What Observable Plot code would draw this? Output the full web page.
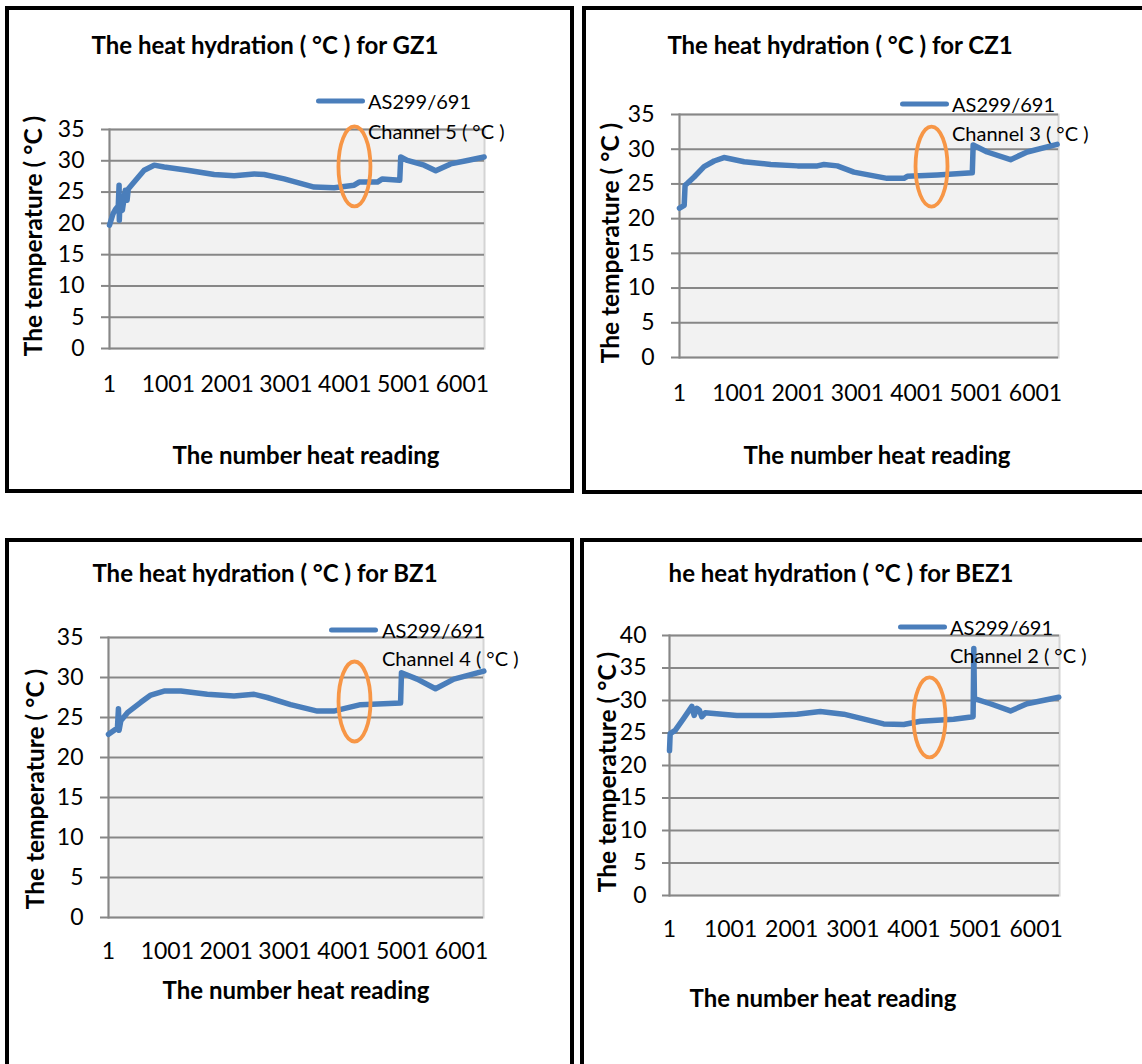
<!DOCTYPE html>
<html>
<head>
<meta charset="utf-8">
<script src="https://cdn.jsdelivr.net/npm/d3@7"></script>
<script src="https://cdn.jsdelivr.net/npm/@observablehq/plot@0.6"></script>
<style>
  html, body { margin: 0; padding: 0; background: #fff; }
  #root { position: relative; width: 1142px; height: 1064px; overflow: hidden; font-family: Lato, "Open Sans", sans-serif; color: #000; }
  .panel { position: absolute; border: 4px solid #000; box-sizing: border-box; }
  .t { position: absolute; white-space: nowrap; line-height: 1; }
  .title, .axt { font-weight: bold; font-size: 24px; transform: translate(-50%, -50%); }
  .ylab { font-weight: bold; font-size: 24.5px; transform: translate(-50%, -50%) rotate(-90deg); }
  .leg { font-size: 20px; transform: translate(0, -50%); }
  .swatch { position: absolute; height: 5px; background: #4A7EBB; border-radius: 3px; transform: translate(0, -50%); }
  .plot { position: absolute; overflow: visible; }
</style>
</head>
<body>
<div id="root"></div>
<script>
// ---------------- data ----------------
const xTicks = [1, 1001, 2001, 3001, 4001, 5001, 6001];
const yTicks35 = [0, 5, 10, 15, 20, 25, 30, 35];
const yTicks40 = [0, 5, 10, 15, 20, 25, 30, 35, 40];

const readingsGZ1 = [1, 60, 108, 150, 164, 168, 175, 220, 270, 300, 320, 420, 590, 760, 930, 1326, 1780, 2120, 2460, 2630, 2970, 3480, 3820, 4160, 4245, 4555, 4640, 4935, 4952, 5065, 5350, 5547, 5800, 6085, 6370];
const tempGZ1     = [19.7, 21.5, 22.3, 22.8, 26.1, 20.5, 22.5, 22.1, 25.3, 23.7, 25.5, 26.6, 28.5, 29.3, 29.0, 28.5, 27.8, 27.6, 27.9, 27.8, 27.1, 25.8, 25.7, 26.1, 26.6, 26.6, 27.1, 26.9, 30.6, 30.05, 29.3, 28.4, 29.5, 30.05, 30.6];

const readingsCZ1 = [1, 80, 95, 135, 247, 415, 585, 750, 1090, 1540, 1990, 2325, 2435, 2660, 2940, 3500, 3783, 3840, 4345, 4935, 4950, 5186, 5580, 5860, 6365];
const tempCZ1     = [21.5, 21.9, 24.8, 25.1, 26.0, 27.5, 28.3, 28.8, 28.2, 27.8, 27.6, 27.6, 27.8, 27.6, 26.7, 25.8, 25.8, 26.1, 26.3, 26.6, 30.6, 29.6, 28.5, 29.6, 30.7];

const readingsBZ1 = [1, 153, 170, 181, 210, 323, 550, 720, 945, 1230, 1680, 2135, 2475, 2700, 3095, 3550, 3830, 4000, 4285, 4965, 4980, 5247, 5558, 5870, 6380];
const tempBZ1     = [22.9, 23.7, 26.1, 23.4, 24.6, 25.6, 26.9, 27.8, 28.3, 28.3, 27.9, 27.7, 27.9, 27.5, 26.6, 25.8, 25.8, 26.1, 26.6, 26.8, 30.6, 29.8, 28.6, 29.8, 30.8];

const readingsBEZ1 = [1, 12, 94, 230, 367, 405, 448, 490, 530, 585, 1103, 1650, 2086, 2468, 2850, 3505, 3833, 4106, 4650, 4968, 4980, 4990, 5250, 5580, 5850, 6370];
const tempBEZ1     = [22.3, 24.9, 25.4, 27.2, 29.1, 27.7, 28.8, 28.5, 27.5, 28.1, 27.7, 27.7, 27.9, 28.3, 27.9, 26.4, 26.3, 26.8, 27.1, 27.5, 38.0, 30.3, 29.5, 28.4, 29.5, 30.5];

const readingCounts = [6376, 6388, 6374, 6382];          // last reading on each x axis
const titles = ["The heat hydration ( °C ) for GZ1", "The heat hydration ( °C ) for CZ1",
                "The heat hydration ( °C ) for BZ1", "he heat hydration ( °C ) for BEZ1"];
const seriesNames = ["AS299/691", "AS299/691", "AS299/691", "AS299/691"];
const channelNames = ["Channel 5 ( °C )", "Channel 3 ( °C )", "Channel 4 ( °C )", "Channel 2 ( °C )"];
const yLabel = "The temperature ( °C )";
const xLabel = "The number heat reading";
// annotation ellipses (centre in data units)
const markX = [4165, 4248, 4182, 4255];
const markY = [29.1, 27.5, 27.0, 27.4];

// ---------------- layout ----------------
const series = [
  {x: readingsGZ1, y: tempGZ1, yTicks: yTicks35},
  {x: readingsCZ1, y: tempCZ1, yTicks: yTicks35},
  {x: readingsBZ1, y: tempBZ1, yTicks: yTicks35},
  {x: readingsBEZ1, y: tempBEZ1, yTicks: yTicks40}
];
const layout = [
  {box:[5,6,569,487],   frame:[109,484,129,348], tick:[8,17], xpad:27, title:[265,45],  ylab:[33,236],  xlab:[306,455], leg:[316,365,101,368,131]},
  {box:[582,6,570,488], frame:[679,1058,114,357], tick:[8,17], xpad:27, title:[840,45],  ylab:[610,243], xlab:[877,455], leg:[900,949,104,952,133]},
  {box:[5,538,569,540], frame:[108,483,637,917], tick:[8,17], xpad:25, title:[265,573], ylab:[35,789],  xlab:[296,990], leg:[329,378,630,382,658]},
  {box:[580,538,580,540], frame:[669,1059,635,895], tick:[7,16], xpad:25, title:[841,573], ylab:[607,772], xlab:[823,998], leg:[898,947,627,950,655]}
];

const root = document.getElementById("root");
function addText(cls, txt, x, y) {
  const d = document.createElement("div");
  d.className = "t " + cls;
  d.textContent = txt;
  d.style.left = x + "px"; d.style.top = y + "px";
  root.appendChild(d);
}
function ellipseSymbol(rx, ry) {
  const k = 0.5523;
  return {draw(ctx) {
    ctx.moveTo(rx, 0);
    ctx.bezierCurveTo(rx, k*ry, k*rx, ry, 0, ry);
    ctx.bezierCurveTo(-k*rx, ry, -rx, k*ry, -rx, 0);
    ctx.bezierCurveTo(-rx, -k*ry, -k*rx, -ry, 0, -ry);
    ctx.bezierCurveTo(k*rx, -ry, rx, -k*ry, rx, 0);
    ctx.closePath();
  }};
}

series.forEach((s, i) => {
  const L = layout[i];
  const p = document.createElement("div");
  p.className = "panel";
  p.style.left = L.box[0] + "px"; p.style.top = L.box[1] + "px";
  p.style.width = L.box[2] + "px"; p.style.height = L.box[3] + "px";
  root.appendChild(p);

  const [fl, fr, ft, fb] = L.frame;
  const svgL = fl - 110, svgT = ft - 40, W = (fr + 30) - svgL, H = (fb + 60) - svgT;
  const data = s.x.map((x, j) => ({x, y: s.y[j]}));
  const yMax = s.yTicks[s.yTicks.length - 1];
  const chart = Plot.plot({
    width: W, height: H,
    marginLeft: fl - svgL, marginRight: svgL + W - fr, marginTop: ft - svgT, marginBottom: svgT + H - fb,
    style: {fontFamily: "Lato, 'Open Sans', sans-serif", fontSize: "23px", color: "#000", background: "transparent", overflow: "visible"},
    x: {domain: [1, readingCounts[i]], label: null},
    y: {domain: [0, yMax], label: null},
    marks: [
      Plot.frame({fill: "#f2f2f2", stroke: "#d4d4d4", strokeWidth: 2}),
      Plot.ruleY(s.yTicks, {stroke: "#878787", strokeWidth: 2}),
      Plot.frame({anchor: "left", stroke: "#878787", strokeWidth: 2}),
      Plot.axisY(s.yTicks, {tickSize: L.tick[0], tickPadding: L.tick[1], stroke: "#878787", strokeWidth: 2, fill: "#000", label: null}),
      Plot.axisX(xTicks, {tickSize: 0, tickPadding: L.xpad, fill: "#000", label: null, tickFormat: d => String(d)}),
      Plot.line(data, {x: "x", y: "y", stroke: "#4A7EBB", strokeWidth: 5.5, strokeLinejoin: "round", strokeLinecap: "round"}),
      Plot.dot([{x: markX[i], y: markY[i]}], {x: "x", y: "y", symbol: ellipseSymbol(16, 40), r: 10, fill: "none", stroke: "#F79646", strokeWidth: 3.8})
    ]
  });
  chart.classList.add("plot");
  chart.style.left = svgL + "px"; chart.style.top = svgT + "px";
  root.appendChild(chart);

  addText("title", titles[i], L.title[0], L.title[1]);
  addText("ylab", yLabel, L.ylab[0], L.ylab[1]);
  addText("axt", xLabel, L.xlab[0], L.xlab[1]);
  const sw = document.createElement("div");
  sw.className = "swatch";
  sw.style.left = L.leg[0] + "px"; sw.style.top = L.leg[2] + "px"; sw.style.width = (L.leg[1] - L.leg[0]) + "px";
  root.appendChild(sw);
  addText("leg", seriesNames[i], L.leg[3], L.leg[2]);
  addText("leg", channelNames[i], L.leg[3], L.leg[4]);
});
</script>
</body>
</html>
